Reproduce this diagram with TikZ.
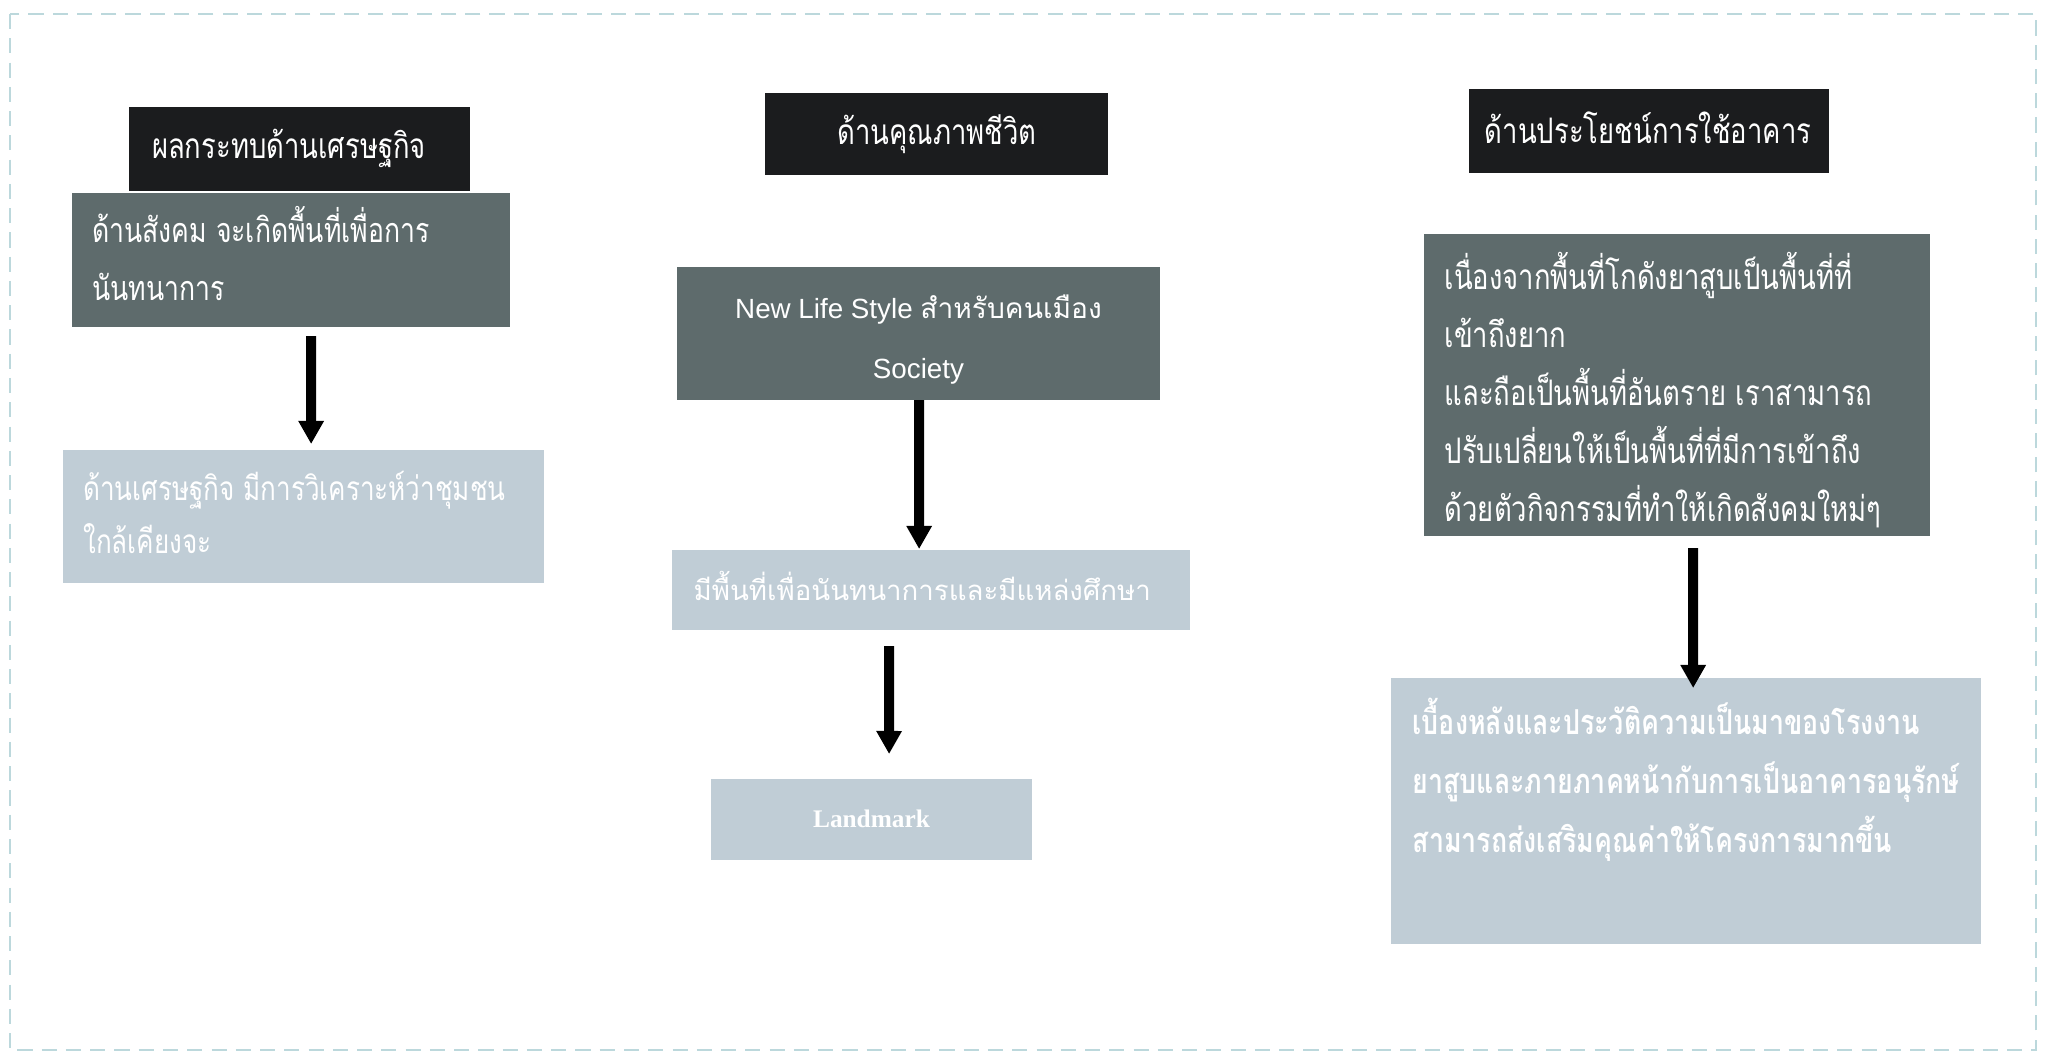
\documentclass[tikz,border=0pt]{standalone}
\usepackage{fontspec}
\usetikzlibrary{arrows.meta,calc}
\setmainfont{Liberation Serif}
\setsansfont{Liberation Sans}
\newfontfamily\thai[Script=Thai,FakeStretch=0.78]{Loma}
\newfontfamily\thaiS[Script=Thai]{Loma}
\definecolor{hdrc}{HTML}{1B1C1E}
\definecolor{darkc}{HTML}{5E6B6C}
\definecolor{lightc}{HTML}{C0CDD6}
\definecolor{framec}{HTML}{BCD8DC}
\newcommand\thsz{\fontsize{10pt}{16.5pt}\selectfont}
\newcommand\mytxt[1]{\parbox[t]{7cm}{\raggedright #1}}
\begin{document}
\begin{tikzpicture}[x=0.01cm,y=-0.01cm,
  box/.style={anchor=north west,inner sep=0pt,outer sep=0pt,draw=none},
  hdrbox/.style={box,fill=hdrc},
  darkbox/.style={box,fill=darkc},
  lightbox/.style={box,fill=lightc},
  txt/.style={anchor=base west,inner sep=0pt,text=white,font=\thai\thsz},
  ctxt/.style={anchor=base,inner sep=0pt,text=white,font=\thai\thsz,align=center},
  arr/.style={line width=2.85pt,-{Triangle[width=0.24cm,length=0.23cm]}}]
\useasboundingbox (0,0) rectangle (2047,1057);
\fill[white] (0,0) rectangle (2047,1057);
\draw[framec,line width=0.6pt,dash pattern=on 4.3pt off 2.6pt] (10,14) rectangle (2036,1050);
% column 1
\node[hdrbox,minimum width=3.41cm,minimum height=0.84cm] (h1) at (128.6,106.8) {};
\node[darkbox,minimum width=4.38cm,minimum height=1.344cm] (d1) at (72,192.6) {};
\node[lightbox,minimum width=4.815cm,minimum height=1.334cm] (l1) at (62.5,449.6) {};
\node[ctxt] (th1) at (289,158) {ผลกระทบด้านเศรษฐกิจ};
\node[txt,font=\thai\fontsize{9.7pt}{16.5pt}\selectfont] (td1) at (91.5,242) {\mytxt{ด้านสังคม จะเกิดพื้นที่เพื่อการ\\นันทนาการ}};
\node[txt,font=\thai\fontsize{9.5pt}{15.2pt}\selectfont] (tl1) at (82.6,500) {\mytxt{ด้านเศรษฐกิจ มีการวิเคราะห์ว่าชุมชน\\ใกล้เคียงจะ}};
\draw[arr] ($(d1.south)+(20,9)$) -- ($(l1.north)+(7.75,-5.6)$);
% column 2
\node[hdrbox,minimum width=3.43cm,minimum height=0.82cm] (h2) at (765,93) {};
\node[darkbox,minimum width=4.835cm,minimum height=1.33cm] (d2) at (676.5,267) {};
\node[lightbox,minimum width=5.185cm,minimum height=0.80cm] (l2) at (671.5,550) {};
\node[lightbox,minimum width=3.21cm,minimum height=0.81cm] (m2) at (711,779) {};
\node[ctxt] (th2) at (937,144) {ด้านคุณภาพชีวิต};
\node[ctxt,font=\sffamily\fontsize{7.9pt}{16.8pt}\selectfont] (td2) at (918.5,378) {New Life Style {\thaiS\fontsize{8pt}{16.8pt}\selectfont สำหรับคนเมือง}\\Society};
\node[txt,font=\thaiS\fontsize{7.85pt}{16.5pt}\selectfont] (tl2) at (693,600) {มีพื้นที่เพื่อนันทนาการและมีแหล่งศึกษา};
\node[ctxt,font=\rmfamily\bfseries\fontsize{7.2pt}{9pt}\selectfont] (tm2) at (871.5,827.5) {Landmark};
\draw[arr] ($(d2.south)+(0.75,0)$) -- ($(l2.north)+(-11.75,-1)$);
\draw[arr] ($(l2.south)+(-41.75,16)$) -- ($(m2.north)+(17.5,-25)$);
% column 3
\node[hdrbox,minimum width=3.60cm,minimum height=0.84cm] (h3) at (1469,89) {};
\node[darkbox,minimum width=5.06cm,minimum height=3.02cm] (d3) at (1424,234) {};
\node[lightbox,minimum width=5.90cm,minimum height=2.66cm] (l3) at (1391,678) {};
\node[ctxt] (th3) at (1648,143) {ด้านประโยชน์การใช้อาคาร};
\node[txt] (td3) at (1444,289.5) {\mytxt{เนื่องจากพื้นที่โกดังยาสูบเป็นพื้นที่ที่\\เข้าถึงยาก\\และถือเป็นพื้นที่อันตราย เราสามารถ\\ปรับเปลี่ยนให้เป็นพื้นที่ที่มีการเข้าถึง\\ด้วยตัวกิจกรรมที่ทำให้เกิดสังคมใหม่ๆ}};
\node[txt,font=\thai\bfseries\fontsize{9.77pt}{16.8pt}\selectfont] (tl3) at (1412,734) {\mytxt{เบื้องหลังและประวัติความเป็นมาของโรงงาน\\ยาสูบและภายภาคหน้ากับการเป็นอาคารอนุรักษ์\\สามารถส่งเสริมคุณค่าให้โครงการมากขึ้น}};
\draw[arr] ($(d3.south)+(16,12)$) -- ($(l3.north)+(7,10)$);
\end{tikzpicture}
\end{document}
